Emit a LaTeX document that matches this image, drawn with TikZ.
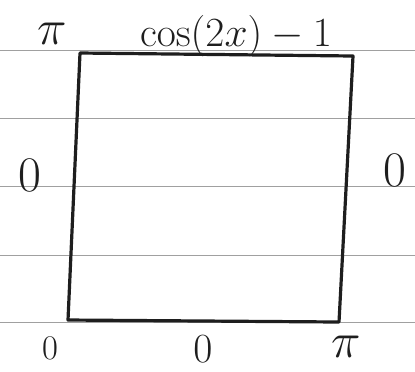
\documentclass[tikz,border=0pt]{standalone}
\usepackage{amsmath}
\definecolor{RULEgray}{HTML}{A0A0A0}
\definecolor{INKblack}{HTML}{1E1E1E}
\usetikzlibrary{calc, positioning}
\tikzset{
   ruled/.style={RULEgray, line width=0.5pt},
   inkbox/.style={INKblack, line width=1.6pt, line join=round},
   inklabel/.style={INKblack, inner sep=0pt, font=\fontsize{20}{22}\selectfont}
}

\begin{document}
\begin{tikzpicture}[x=0.5pt, y=-0.5pt]
            \useasboundingbox (0,0) rectangle (415,371);
            % Ruled lines of the paper
            \foreach \ry in {50,118,186,255,322}
               \draw[ruled] (0,\ry) -- (415,\ry);
            % Corners of the square
            \coordinate (tl) at (80,53);
            \coordinate (tr) at (353,56);
            \coordinate (br) at (339,322);
            \coordinate (bl) at (68,320);
            \draw[inkbox] (tl) -- (tr) -- (br) -- (bl) -- cycle;
            % Top edge
            \node[inklabel] (topfun) at (236,36) {$\cos(2x)-1$};
            \node[inklabel, font=\fontsize{28}{30}\selectfont] (topleft) at (52,34) {$\pi$};
            % Left and right edges
            \node[inklabel, font=\fontsize{26}{28}\selectfont] (leftval) at (30,175) {$0$};
            \node[inklabel, font=\fontsize{26}{28}\selectfont] (rightval) at (395,170) {$0$};
            % Bottom edge
            \node[inklabel, font=\fontsize{16}{18}\selectfont] (botleft) at (50,348) {$0$};
            \node[inklabel] (botmid) at (203,349) {$0$};
            \node[inklabel, font=\fontsize{24}{26}\selectfont] (botright) at (346,347) {$\pi$};
         \end{tikzpicture}
\end{document}
